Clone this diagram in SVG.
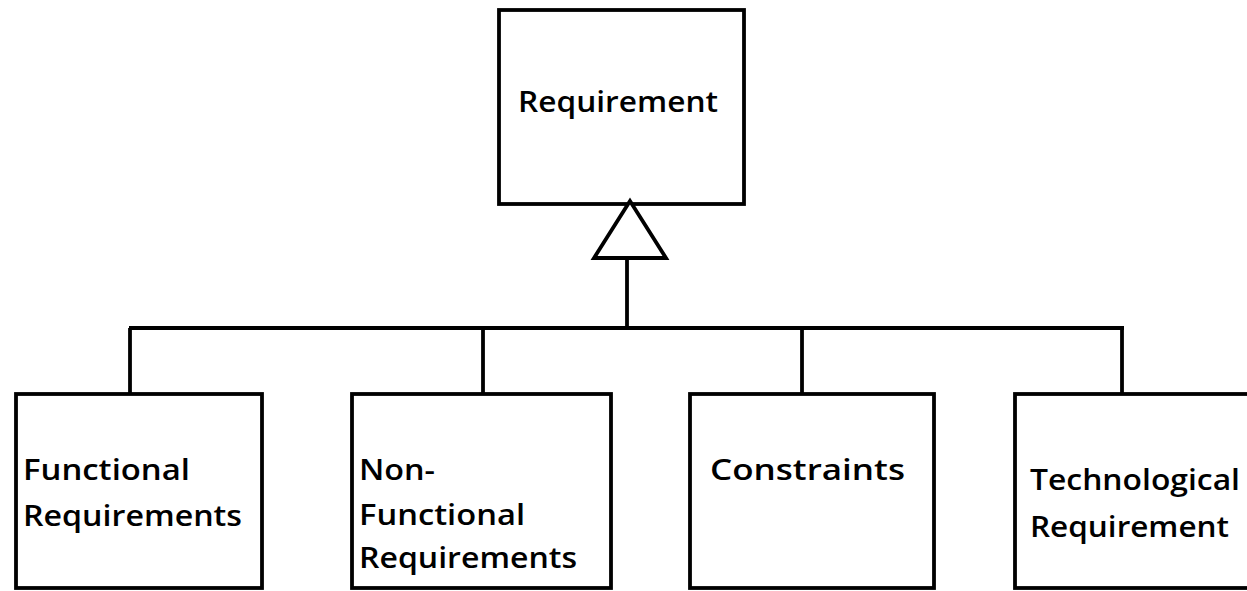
<svg xmlns="http://www.w3.org/2000/svg" width="1247" height="591" viewBox="0 0 1247 591">
<style>
.box{fill:#fff;stroke:#000;stroke-width:3.8}
.ln{fill:none;stroke:#000;stroke-width:3.8}
.t{font-family:"Open Sans","Liberation Sans",sans-serif;font-weight:600;font-size:29px;fill:#000}
</style>
<rect width="1247" height="591" fill="#fff"/>
<g id="requirement">
<rect class="box" x="499" y="10" width="245" height="194"/>
<text class="t" x="518" y="112" textLength="200" lengthAdjust="spacingAndGlyphs">Requirement</text>
</g>
<g id="connectors">
<polygon class="box" points="630,201 594,258 666,258"/>
<line class="ln" x1="627" y1="258" x2="627" y2="328"/>
<line class="ln" x1="129" y1="328" x2="1124" y2="328"/>
<line class="ln" x1="130" y1="328" x2="130" y2="400"/>
<line class="ln" x1="483" y1="328" x2="483" y2="400"/>
<line class="ln" x1="802" y1="328" x2="802" y2="400"/>
<line class="ln" x1="1122" y1="328" x2="1122" y2="400"/>
</g>
<g id="functional">
<rect class="box" x="16" y="394" width="246" height="194"/>
<text class="t" x="23" y="480" textLength="167" lengthAdjust="spacingAndGlyphs">Functional</text>
<text class="t" x="23" y="526" textLength="219" lengthAdjust="spacingAndGlyphs">Requirements</text>
</g>
<g id="nonfunctional">
<rect class="box" x="352" y="394" width="259" height="194"/>
<text class="t" x="359" y="480" textLength="76" lengthAdjust="spacingAndGlyphs">Non-</text>
<text class="t" x="359" y="525" textLength="166" lengthAdjust="spacingAndGlyphs">Functional</text>
<text class="t" x="359" y="568" textLength="218" lengthAdjust="spacingAndGlyphs">Requirements</text>
</g>
<g id="constraints">
<rect class="box" x="690" y="394" width="244" height="194"/>
<text class="t" x="710" y="480" textLength="195" lengthAdjust="spacingAndGlyphs">Constraints</text>
</g>
<g id="technological">
<rect class="box" x="1015" y="394" width="250" height="194"/>
<text class="t" x="1030" y="490" textLength="210" lengthAdjust="spacingAndGlyphs">Technological</text>
<text class="t" x="1030" y="537" textLength="199" lengthAdjust="spacingAndGlyphs">Requirement</text>
</g>
</svg>
